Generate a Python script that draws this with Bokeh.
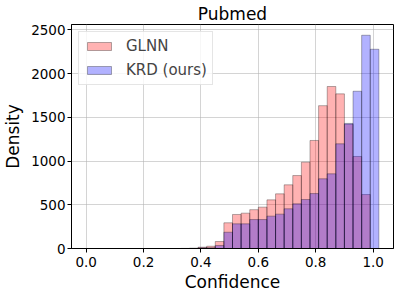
from bokeh.plotting import figure
from bokeh.models import Range1d, FixedTicker, Legend, LegendItem
from bokeh.embed import file_html
from bokeh.resources import INLINE

# ---- data ----
bin_edges = [0.00, 0.03, 0.06, 0.09, 0.12, 0.15, 0.18, 0.21, 0.24, 0.27,
             0.30, 0.33, 0.36, 0.39, 0.42, 0.45, 0.48, 0.51, 0.54, 0.57,
             0.60, 0.63, 0.66, 0.69, 0.72, 0.75, 0.78, 0.81, 0.84, 0.87,
             0.90, 0.93, 0.96, 0.99, 1.02]
glnn_counts = [0, 0, 0, 0, 0, 0, 0, 0, 0, 0,
               0, 1, 3, 15, 26, 80, 294, 389, 404, 444,
               473, 556, 625, 728, 834, 987, 1235, 1633, 1852, 1768,
               1420, 1052, 617, 0]
krd_counts = [0, 0, 0, 0, 0, 0, 0, 0, 0, 0,
              0, 0, 1, 8, 10, 34, 186, 282, 282, 331,
              331, 370, 393, 454, 511, 560, 628, 797, 854, 1197,
              1430, 1798, 2438, 2278]
series_names = ["GLNN", "KRD (ours)"]
x_ticks = [0.0, 0.2, 0.4, 0.6, 0.8, 1.0]
x_tick_labels = ["0.0", "0.2", "0.4", "0.6", "0.8", "1.0"]
y_ticks = [0, 500, 1000, 1500, 2000, 2500]
y_tick_labels = ["0", "500", "1000", "1500", "2000", "2500"]
title_text = "Pubmed"
x_label = "Confidence"
y_label = "Density"

FONT = "DejaVu Sans"

p = figure(width=399, height=295, output_backend="svg", toolbar_location=None,
           x_range=Range1d(-0.051, 1.071), y_range=Range1d(0, 2561),
           min_border_left=70, min_border_right=6, min_border_top=24,
           min_border_bottom=47, background_fill_color="white",
           border_fill_color="white", title=title_text)
p.outline_line_color = "black"
p.outline_line_width = 1

p.title.align = "center"
p.title.text_font = FONT
p.title.text_font_size = "17px"
p.title.text_font_style = "normal"
p.title.text_color = "black"
p.title.standoff = 2

lefts = bin_edges[:-1]
rights = bin_edges[1:]
r1 = p.quad(left=lefts, right=rights, bottom=0, top=glnn_counts,
            fill_color="red", fill_alpha=0.3, line_color="black",
            line_alpha=0.3, line_width=1)
r2 = p.quad(left=lefts, right=rights, bottom=0, top=krd_counts,
            fill_color="blue", fill_alpha=0.3, line_color="black",
            line_alpha=0.3, line_width=1)

for ax, ticks, labels in ((p.xaxis[0], x_ticks, x_tick_labels),
                          (p.yaxis[0], y_ticks, y_tick_labels)):
    ax.ticker = FixedTicker(ticks=ticks)
    ax.major_label_overrides = {t: l for t, l in zip(ticks, labels)}
    ax.major_label_text_font = FONT
    ax.major_label_text_font_size = "13.5px"
    ax.major_label_text_color = "black"
    ax.axis_line_color = "black"
    ax.major_tick_line_color = "black"
    ax.major_tick_out = 4
    ax.major_tick_in = 0
    ax.minor_tick_line_color = None
    ax.axis_label_text_font = FONT
    ax.axis_label_text_font_size = "17px"
    ax.axis_label_text_font_style = "normal"
    ax.axis_label_text_color = "black"
p.xaxis[0].major_label_standoff = 4
p.yaxis[0].major_label_standoff = 2
p.xaxis[0].axis_label = x_label
p.yaxis[0].axis_label = y_label
p.xaxis[0].axis_label_standoff = 2
p.yaxis[0].axis_label_standoff = 5

p.grid.grid_line_color = "#b0b0b0"
p.grid.grid_line_alpha = 0.55
p.grid.grid_line_width = 1

legend = Legend(items=[LegendItem(label=series_names[0], renderers=[r1]),
                       LegendItem(label=series_names[1], renderers=[r2])],
                location="top_left")
legend.label_text_font = FONT
legend.label_text_font_size = "15px"
legend.glyph_width = 30
legend.glyph_height = 10
legend.label_standoff = 12
legend.label_height = 17
legend.padding = 5
legend.spacing = 6
legend.margin = 7
legend.border_line_color = "#cccccc"
legend.border_line_width = 1
legend.background_fill_alpha = 0.8
p.add_layout(legend)

open("out.html", "w").write(file_html(p, INLINE))
